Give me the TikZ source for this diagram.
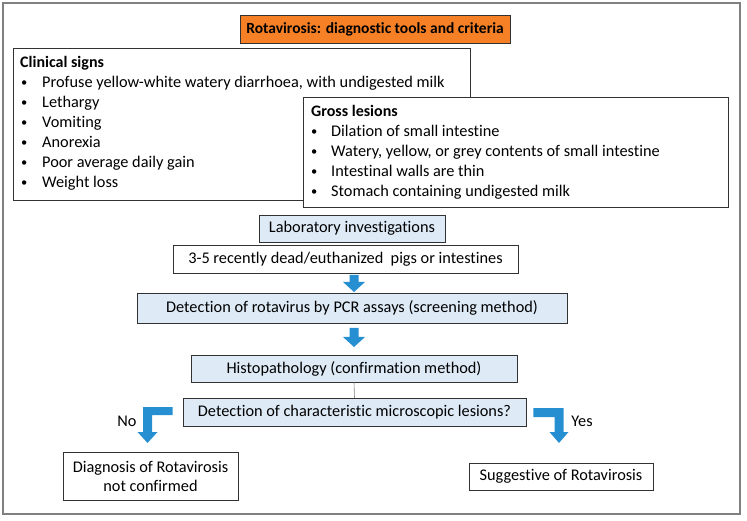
\documentclass[tikz,border=0pt]{standalone}
\usepackage{fontspec}
\setmainfont{Carlito}[Ligatures=NoCommon]
\usetikzlibrary{calc}
\definecolor{frameGray}{RGB}{128,128,128}
\definecolor{boxLine}{RGB}{50,50,50}
\definecolor{titleOrange}{RGB}{246,128,38}
\definecolor{paleBlue}{RGB}{222,235,247}
\definecolor{arrowBlue}{RGB}{38,143,210}
\begin{document}
\begin{tikzpicture}[x=1pt,y=-1pt,
  every node/.style={font=\fontsize{16.3}{20}\selectfont},
  box/.style={draw=boxLine, line width=0.8pt, inner sep=0pt, align=center},
  plainbox/.style={box, fill=white},
  bluebox/.style={box, fill=paleBlue},
  line/.style={anchor=base west, inner sep=0pt},
  bul/.style={anchor=base west, inner sep=0pt, font=\fontsize{12.5}{14}\selectfont, yshift=1.3pt},
  lbl/.style={inner sep=0pt}
]
\useasboundingbox (0,0) rectangle (747,521);
\draw[frameGray, line width=1.5pt] (3,3) rectangle (740,514);

% title
\node[box, fill=titleOrange, minimum width=270pt, minimum height=28pt, font=\fontsize{15.5}{20}\selectfont\bfseries] (title) at (375,29) {Rotavirosis: diagnostic tools and criteria};

% clinical signs
\node[plainbox, minimum width=457pt, minimum height=152pt] (clin) at (241.5,124) {};
\node[line, font=\fontsize{16}{20}\selectfont\bfseries] (c0) at (20,68) {Clinical signs};
\node[bul] (cb1) at (21,88) {•}; \node[line] (ct1) at (42,88) {Profuse yellow-white watery diarrhoea, with undigested milk};
\node[bul] (cb2) at (21,108) {•}; \node[line] (ct2) at (42,108) {Lethargy};
\node[bul] (cb3) at (21,128) {•}; \node[line] (ct3) at (42,128) {Vomiting};
\node[bul] (cb4) at (21,148) {•}; \node[line] (ct4) at (42,148) {Anorexia};
\node[bul] (cb5) at (21,168) {•}; \node[line] (ct5) at (42,168) {Poor average daily gain};
\node[bul] (cb6) at (21,188) {•}; \node[line] (ct6) at (42,188) {Weight loss};

% gross lesions
\node[plainbox, minimum width=425pt, minimum height=110pt] (gross) at (515.5,152) {};
\node[line, font=\fontsize{16}{20}\selectfont\bfseries] (g0) at (311,117) {Gross lesions};
\node[bul] (gb1) at (311,137) {•}; \node[line] (gt1) at (331,137) {Dilation of small intestine};
\node[bul] (gb2) at (311,157) {•}; \node[line] (gt2) at (331,157) {Watery, yellow, or grey contents of small intestine};
\node[bul] (gb3) at (311,177) {•}; \node[line] (gt3) at (331,177) {Intestinal walls are thin};
\node[bul] (gb4) at (311,197) {•}; \node[line] (gt4) at (331,197) {Stomach containing undigested milk};

% flow
\node[bluebox, minimum width=186pt, minimum height=27pt] (lab) at (352,228.5) {Laboratory investigations};
\node[plainbox, minimum width=345pt, minimum height=28pt] (sample) at (345.5,259) {3-5 recently dead/euthanized\ \ pigs or intestines};
\node[bluebox, minimum width=430pt, minimum height=30pt] (pcr) at (352,308) {Detection of rotavirus by PCR assays (screening method)};
\node[bluebox, minimum width=326pt, minimum height=27pt] (histo) at (354,368.5) {Histopathology (confirmation method)};
\node[bluebox, minimum width=343pt, minimum height=28pt] (dec) at (354.5,412) {Detection of characteristic microscopic lesions?};
\node[plainbox, minimum width=175pt, minimum height=48pt] (diag) at (150.5,476) {Diagnosis of Rotavirosis\\[-1pt]not confirmed};
\node[plainbox, minimum width=184pt, minimum height=27pt] (sugg) at (561,476.5) {Suggestive of Rotavirosis};

\coordinate (a1) at (354,275);
\coordinate (a2) at (354,328);
% block arrows down
\foreach \c/\len in {a1/17, a2/19}{
  \fill[arrowBlue] ($(\c)+(-4.5,0)$) -- ($(\c)+(4.5,0)$) -- ($(\c)+(4.5,\len-10)$) -- ($(\c)+(11,\len-10)$)
     -- ($(\c)+(0,\len)$) -- ($(\c)+(-11,\len-10)$) -- ($(\c)+(-4.5,\len-10)$) -- cycle;
}

\draw[frameGray, line width=0.6pt] (histo.south) -- (dec.north);

% No elbow arrow
\coordinate (noS) at ($(dec.west)+(-10,-5)$);
\fill[arrowBlue] (noS) -- ++(0,8) -- (152,415) -- (152,432) -- (157.5,432) -- (147.5,443) -- (137.5,432) -- (143,432) -- (143,407) -- cycle;
\node[lbl] (no) at (127,421) {No};

% Yes elbow arrow
\coordinate (yesS) at ($(dec.east)+(7,-4)$);
\fill[arrowBlue] (yesS) -- (563.5,408) -- (563.5,432) -- (568.5,432) -- (559,443) -- (549.5,432) -- (554.5,432) -- (554.5,417) -- ($(yesS)+(0,9)$) -- cycle;
\node[lbl] (yes) at (582,421) {Yes};
\end{tikzpicture}
\end{document}
